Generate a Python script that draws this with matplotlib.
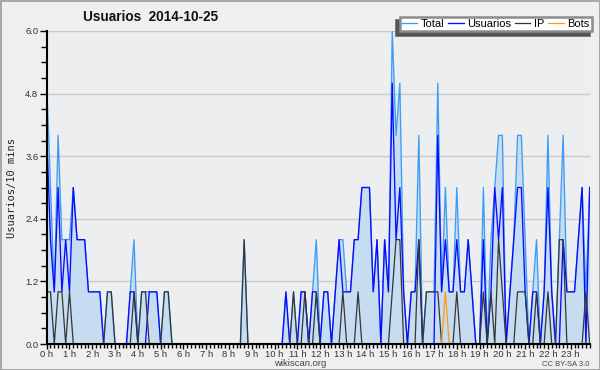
import numpy as np
import matplotlib
matplotlib.use("Agg")
import matplotlib.pyplot as plt
from matplotlib.ticker import MultipleLocator, FixedLocator

# 10-minute counts for 2014-10-25 (144 slots)
total = [5, 3, 1, 4, 2, 2, 2, 3, 2, 2, 2, 1, 1, 1, 1, 0, 1, 1, 0, 0, 0, 0, 1, 2,
         0, 1, 1, 1, 1, 1, 0, 1, 1, 0, 0, 0, 0, 0, 0, 0, 0, 0, 0, 0, 0, 0, 0, 0,
         0, 0, 0, 0, 2, 0, 0, 0, 0, 0, 0, 0, 0, 0, 0, 1, 0, 1, 0, 1, 1, 0, 1, 2,
         0, 1, 1, 0, 1, 2, 2, 1, 1, 2, 2, 3, 3, 3, 1, 2, 0, 2, 1, 6, 4, 5, 1, 0,
         1, 1, 4, 0, 1, 1, 1, 5, 1, 3, 1, 1, 3, 1, 1, 2, 1, 0, 0, 3, 0, 2, 3, 4,
         4, 0, 1, 2, 4, 4, 2, 0, 1, 2, 0, 1, 4, 1, 0, 2, 4, 1, 1, 1, 2, 3, 1, 3]
usuarios = [4, 2, 1, 3, 1, 2, 1, 3, 2, 2, 2, 1, 1, 1, 1, 0, 0, 0, 0, 0, 0, 0, 1, 1,
            0, 0, 0, 1, 1, 1, 0, 0, 0, 0, 0, 0, 0, 0, 0, 0, 0, 0, 0, 0, 0, 0, 0, 0,
            0, 0, 0, 0, 0, 0, 0, 0, 0, 0, 0, 0, 0, 0, 0, 1, 0, 0, 0, 1, 1, 0, 1, 1,
            0, 1, 1, 0, 1, 2, 1, 1, 1, 2, 2, 3, 3, 3, 1, 2, 0, 2, 1, 5, 2, 3, 1, 0,
            1, 1, 2, 0, 0, 0, 0, 4, 1, 2, 1, 1, 2, 1, 1, 2, 1, 0, 0, 2, 0, 1, 3, 2,
            3, 0, 1, 2, 3, 3, 1, 0, 1, 1, 0, 1, 3, 1, 0, 0, 2, 1, 1, 1, 2, 3, 0, 3]
ip = [1, 1, 0, 1, 1, 0, 1, 0, 0, 0, 0, 0, 0, 0, 0, 0, 1, 1, 0, 0, 0, 0, 0, 1,
      0, 1, 1, 0, 0, 0, 0, 1, 1, 0, 0, 0, 0, 0, 0, 0, 0, 0, 0, 0, 0, 0, 0, 0,
      0, 0, 0, 0, 2, 0, 0, 0, 0, 0, 0, 0, 0, 0, 0, 0, 0, 1, 0, 0, 1, 0, 0, 1,
      0, 0, 0, 0, 0, 0, 1, 0, 0, 0, 1, 0, 0, 0, 0, 0, 0, 0, 0, 1, 2, 2, 0, 0,
      0, 0, 2, 0, 1, 1, 1, 1, 0, 0, 0, 0, 1, 0, 0, 0, 0, 0, 0, 1, 0, 1, 0, 2,
      1, 0, 0, 0, 1, 1, 1, 0, 0, 1, 0, 0, 1, 0, 0, 2, 2, 0, 0, 0, 0, 0, 1, 0]
bots = [0] * 105 + [1] + [0] * 38
hour_labels = [f"{h} h" for h in range(24)]

x = np.arange(len(total)) / 6.0

plt.rcParams['font.family'] = ['Liberation Sans', 'DejaVu Sans']

fig = plt.figure(figsize=(6.0, 3.7), dpi=100, facecolor='#efefef',
                 edgecolor='#a8a8a8', linewidth=2)
ax = fig.add_axes([46.7 / 600, 26 / 370, 543 / 600, 313 / 370])
ax.set_facecolor('#edeef0')

ax.fill_between(x, total, 0, color='#c6dcf0', lw=0, zorder=1)
ax.plot(x, total, color='#3d9df5', lw=0.95, label='Total', zorder=2)
ax.plot(x, usuarios, color='#0a0aff', lw=0.95, label='Usuarios', zorder=3)
ax.plot(x, ip, color='#363636', lw=0.9, label='IP', zorder=4)
ax.plot(x, bots, color='#ff9a10', lw=0.9, label='Bots', zorder=5)

ax.set_xlim(0, x[-1])
ax.set_ylim(0, 6.0)

ax.yaxis.set_major_locator(FixedLocator([0, 1.2, 2.4, 3.6, 4.8, 6.0]))
ax.yaxis.set_minor_locator(MultipleLocator(0.3))
ax.set_yticklabels(['0.0', '1.2', '2.4', '3.6', '4.8', '6.0'])
ax.set_xticks(range(24))
ax.set_xticklabels(hour_labels)
ax.xaxis.set_minor_locator(MultipleLocator(1 / 6))

ax.grid(axis='y', color='#cacaca', lw=1.0, zorder=0)
ax.set_axisbelow(True)

ax.tick_params(which='both', direction='out', color='black', width=1.0,
               labelsize=6.8, labelcolor='#333333', pad=1.0)
ax.tick_params(axis='y', which='major', length=5)
ax.tick_params(axis='y', which='minor', length=4)
ax.tick_params(axis='x', which='major', length=3.5)
ax.tick_params(axis='x', which='minor', length=3)

for s in ['top', 'right']:
    ax.spines[s].set_visible(False)
for s in ['left', 'bottom']:
    ax.spines[s].set_linewidth(1.5)
    ax.spines[s].set_zorder(10)

ax.set_ylabel('Usuarios/10 mins', family='DejaVu Sans Mono', fontsize=7.5,
              color='#222222', labelpad=6)

fig.text(151 / 600, 1 - 17 / 370, 'Usuarios  2014-10-25', ha='center', va='center',
         fontsize=9.8, fontweight='bold', color='#111111')

leg = fig.legend(loc='upper right', bbox_to_anchor=(592 / 600, 1 - 17 / 370),
                 ncol=4, fontsize=8, frameon=True, fancybox=False,
                 shadow={'ox': -2.2, 'oy': -2.2, 'color': '#555555', 'alpha': 1.0},
                 handlelength=1.4, handletextpad=0.35, columnspacing=0.3,
                 borderpad=0.2, borderaxespad=0)
leg.get_frame().set_facecolor('white')
leg.get_frame().set_edgecolor('#8c8c8c')
leg.get_frame().set_linewidth(1.8)
leg.get_frame().set_alpha(1.0)

fig.text(300 / 600, 1 - 364 / 370, 'wikiscan.org', ha='center', va='center',
         fontsize=6.8, color='#444444')
fig.text(589 / 600, 1 - 364 / 370, 'CC BY-SA 3.0', ha='right', va='center',
         fontsize=5.5, color='#444444')

fig.savefig('out.png', dpi=100, facecolor=fig.get_facecolor(),
            edgecolor=fig.get_edgecolor())
